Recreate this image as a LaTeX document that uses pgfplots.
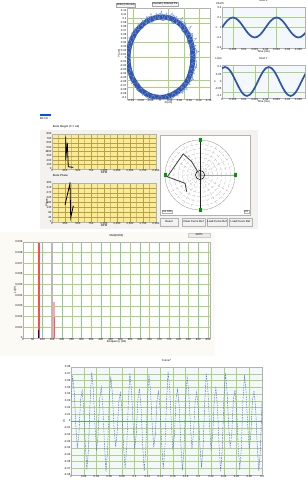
\documentclass[border=0pt]{standalone}
\usepackage{fontspec}
\setmainfont{Liberation Sans}
\usepackage{pgfplots}
\pgfplotsset{compat=1.18}
\usepgfplotslibrary{polar}
\newcommand\tf{\fontsize{2.8}{3.2}\selectfont}
\definecolor{gridg}{RGB}{170,212,120}
\definecolor{oblue}{RGB}{45,85,175}
\definecolor{ylw}{RGB}{250,236,150}
\definecolor{ygrid}{RGB}{185,160,70}
\definecolor{cream}{RGB}{251,250,244}
\definecolor{panelg}{RGB}{243,242,238}
\definecolor{lblue}{RGB}{244,248,253}
\definecolor{wblue}{RGB}{90,120,210}
\pgfplotsset{base/.style={scale only axis, anchor=south west,
  axis line style={gray!60, line width=0.3pt}, tick style={draw=none},
  tick label style={font=\tf, inner sep=0.4pt}, label style={font=\tf, inner sep=0.4pt},
  title style={font=\tf, inner sep=0.6pt}, /pgf/number format/assume math mode=true,
  scaled x ticks=false, scaled y ticks=false,
  major grid style={gridg, line width=0.35pt}, minor grid style={gridg!60, line width=0.3pt}}}
\begin{document}
\begin{tikzpicture}[x=1pt,y=1pt]
\useasboundingbox[fill=white] (0,0) rectangle (306,482);
% ---------------- panel 1: orbit ----------------
\node[draw=gray!70, fill=gray!8, font=\tf, inner sep=0.6pt, anchor=west] at (116,477) {Orbit (Filtered)};
\node[draw=gray!70, fill=gray!8, font=\tf, inner sep=0.6pt] at (165,478) {Overall \textbar{} Filtered Pk};
\begin{axis}[base, at={(127pt,383pt)}, width=83pt, height=91pt,
  xmin=-1.02, xmax=1.54, ymin=-1.04, ymax=1.27,
  xtick={-0.9,-0.6,-0.3,0,0.3,0.6,0.9,1.2,1.5},
  xticklabels={-0.09,-0.06,-0.03,0,0.03,0.06,0.09,0.12,0.15},
  ytick={-1,-0.9,-0.8,-0.7,-0.6,-0.5,-0.4,-0.3,-0.2,-0.1,0,0.1,0.2,0.3,0.4,0.5,0.6,0.7,0.8,0.9,1,1.1,1.2},
  yticklabels={-0.1,-0.09,-0.08,-0.07,-0.06,-0.05,-0.04,-0.03,-0.02,-0.01,0,0.01,0.02,0.03,0.04,0.05,0.06,0.07,0.08,0.09,0.1,0.11,0.12},
  extra x ticks={-0.83,0.25,0.74,1.2}, extra x tick labels={},
  extra y ticks={1.01,0.89,0.41,0.03,-0.56,-0.73}, extra y tick labels={},
  extra tick style={grid=major},
  xlabel={X(um)}, ylabel={Y(um)}, xlabel style={yshift=1.5pt}, ylabel style={yshift=-1.5pt}]
\addplot[oblue, line width=5pt, smooth, data cs=polar] coordinates {
(0,1.01)(10,1.02)(20,1.03)(30,1.04)(40,1.05)(50,1.06)(60,1.06)(70,1.06)(80,1.05)(90,1.04)(100,1.03)(110,1.02)(120,1.01)
(130,1.0)(140,1.0)(150,0.99)(160,0.99)(170,0.99)(180,0.99)(190,0.99)(200,0.99)(210,0.99)(220,0.99)(230,1.0)(240,1.0)
(250,1.0)(260,1.0)(270,1.0)(280,1.0)(290,1.0)(300,1.0)(310,1.01)(320,1.02)(330,1.02)(340,1.01)(350,1.01)(360,1.01)};
\addplot[oblue!85, line width=0.4pt, data cs=polar] coordinates {
(0,1.1)(10,1.14)(20,1.06)(30,1.16)(40,1.1)(50,1.18)(60,1.11)(70,1.17)(80,1.09)(90,1.13)(100,1.08)(110,1.11)(120,1.05)
(130,1.07)(140,1.03)(150,1.06)(160,1.04)(170,1.07)(180,1.05)(190,1.08)(200,1.04)(210,1.07)(220,1.05)(230,1.08)(240,1.06)
(250,1.09)(260,1.05)(270,1.07)(280,1.06)(290,1.09)(300,1.07)(310,1.11)(320,1.08)(330,1.13)(340,1.09)(350,1.14)(360,1.1)};
\addplot[oblue!85, line width=0.4pt, data cs=polar] coordinates {
(5,0.92)(15,1.0)(25,0.94)(35,1.03)(45,0.96)(55,1.06)(65,0.97)(75,1.04)(85,0.95)(95,1.02)(105,0.94)(115,1.0)(125,0.93)
(135,0.99)(145,0.92)(155,0.98)(165,0.93)(175,0.97)(185,0.92)(195,0.98)(205,0.93)(215,0.97)(225,0.92)(235,0.98)(245,0.93)
(255,0.99)(265,0.94)(275,0.98)(285,0.93)(295,0.99)(305,0.94)(315,1.01)(325,0.95)(335,1.03)(345,0.94)(355,1.02)(365,0.92)};
\addplot[wblue!75, line width=0.35pt, data cs=polar] coordinates {
(0,1.17)(4,0.97)(8,1.22)(12,0.98)(16,1.16)(20,0.96)(24,1.24)(28,0.99)(32,1.19)(36,0.97)(40,1.26)(44,1.0)(48,1.2)(52,0.98)
(56,1.25)(60,1.0)(64,1.18)(68,0.97)(72,1.22)(76,0.99)(80,1.16)(84,0.97)(88,1.2)(92,0.98)(96,1.15)(100,0.96)(104,1.17)
(108,0.97)(112,1.14)(116,0.96)(120,1.12)(124,0.97)(128,1.11)(132,0.96)(136,1.1)(140,0.97)(144,1.09)(148,0.95)(152,1.1)
(156,0.95)(160,1.08)(164,0.94)(168,1.09)(172,0.95)(176,1.08)(180,0.94)};
\addplot[wblue!75, line width=0.35pt, data cs=polar] coordinates {
(180,1.08)(186,0.93)(192,1.1)(198,0.94)(204,1.08)(210,0.93)(216,1.11)(222,0.94)(228,1.09)(234,0.95)(240,1.1)(246,0.94)
(252,1.12)(258,0.95)(264,1.09)(270,0.94)(276,1.11)(282,0.95)(288,1.1)(294,0.96)(300,1.12)(304,0.98)(308,1.15)(312,0.97)
(316,1.17)(320,0.98)(324,1.15)(328,0.99)(332,1.18)(336,0.98)(340,1.14)(344,0.97)(348,1.16)(352,0.98)(356,1.14)(360,1.0)};
\end{axis}
% sine 1
\node[font=\tf, anchor=west] at (213,479) {Pk-Pk};
\begin{axis}[base, at={(222pt,434pt)}, width=83pt, height=41pt, axis background/.style={fill=lblue},
  xmin=0, xmax=1.9, ymin=-2.05, ymax=2.05, title={Rod X}, title style={yshift=-1pt},
  xtick={0,0.25,0.5,0.75,1,1.25,1.5,1.75}, xticklabels={0,0.005,0.01,0.015,0.02,0.025,0.03,0.035},
  ytick={-2,-1,0,1,2}, yticklabels={-0.2,-0.1,0,0.1,0.2},
  extra x ticks={0.25,1.25}, extra x tick labels={}, extra y ticks={0,1}, extra y tick labels={},
  extra tick style={grid=major}, xlabel={Time (ms)}, ylabel={Y}, xlabel style={yshift=0.8pt}, ylabel style={yshift=-2pt}]
\addplot[oblue, line width=1.7pt, smooth] coordinates {
(0,0)(0.0625,0.383)(0.125,0.707)(0.1875,0.924)(0.25,1)(0.3125,0.924)(0.375,0.707)(0.4375,0.383)
(0.5,0)(0.5625,-0.383)(0.625,-0.707)(0.6875,-0.924)(0.75,-1)(0.8125,-0.924)(0.875,-0.707)(0.9375,-0.383)
(1,0)(1.0625,0.383)(1.125,0.707)(1.1875,0.924)(1.25,1)(1.3125,0.924)(1.375,0.707)(1.4375,0.383)
(1.5,0)(1.5625,-0.383)(1.625,-0.707)(1.6875,-0.924)(1.75,-1)(1.8125,-0.924)(1.875,-0.707)(1.9375,-0.383)};
\end{axis}
% sine 2
\node[font=\tf, anchor=west] at (212,424) {Lmin};
\begin{axis}[base, at={(222pt,384pt)}, width=83pt, height=33pt, axis background/.style={fill=lblue},
  xmin=0, xmax=1.9, ymin=-1.14, ymax=1.14, title={Rod Y}, title style={yshift=-1pt},
  xtick={0,0.25,0.5,0.75,1,1.25,1.5,1.75}, xticklabels={0,0.005,0.01,0.015,0.02,0.025,0.03,0.035},
  ytick={-1,-0.5,0,0.5,1}, yticklabels={-0.1,-0.05,0,0.05,0.1},
  extra x ticks={0.25,0.76,1.06}, extra x tick labels={}, extra y ticks={0.66,-0.72}, extra y tick labels={},
  extra tick style={grid=major}, xlabel={Time (ms)}, ylabel={Y}, xlabel style={yshift=0.8pt}, ylabel style={yshift=-2pt}]
\addplot[oblue, line width=1.7pt, smooth] coordinates {
(0,0.906)(0.07,1)(0.1325,0.924)(0.195,0.707)(0.2575,0.383)(0.32,0)(0.3825,-0.383)(0.445,-0.707)(0.5075,-0.924)
(0.57,-1)(0.6325,-0.924)(0.695,-0.707)(0.7575,-0.383)(0.82,0)(0.8825,0.383)(0.945,0.707)(1.0075,0.924)(1.07,1)
(1.1325,0.924)(1.195,0.707)(1.2575,0.383)(1.32,0)(1.3825,-0.383)(1.445,-0.707)(1.5075,-0.924)(1.57,-1)
(1.6325,-0.924)(1.695,-0.707)(1.7575,-0.383)(1.82,0)(1.8825,0.383)(1.945,0.707)};
\end{axis}
% ---------------- panel 2 ----------------
\fill[blue!70!cyan] (40,366) rectangle (51,368);
\node[font=\tf, anchor=west, inner sep=0pt] at (40,363) {BF Do};
\fill[panelg] (40,253) rectangle (258,352);
\begin{axis}[base, at={(52pt,313pt)}, width=104pt, height=35pt, axis background/.style={fill=ylw},
  major grid style={ygrid, line width=0.35pt}, minor grid style={ygrid!70, line width=0.3pt}, grid=both,
  xmin=0, xmax=2000, ymin=0, ymax=800, xtick={0,250,...,2000}, minor x tick num=1, ytick={0,100,...,800},
  title={Bode Mag/A (X,Y ab)}, title style={at={(0,1)}, anchor=south west, yshift=-0.5pt},
  xlabel={RPM}, ylabel={A}, xlabel style={yshift=1pt}, ylabel style={yshift=-2pt}]
\addplot[black, line width=0.8pt] coordinates {(263,740)(263,200)(294,600)(313,51)(410,38)};
\end{axis}
\begin{axis}[base, at={(52pt,260pt)}, width=104pt, height=39pt, axis background/.style={fill=ylw},
  major grid style={ygrid, line width=0.35pt}, minor grid style={ygrid!70, line width=0.3pt}, grid=both,
  xmin=0, xmax=2000, ymin=0, ymax=360, xtick={0,250,...,2000}, minor x tick num=1, ytick={0,45,...,360},
  title={Bode Phase}, title style={at={(0,1)}, anchor=south west, yshift=-0.5pt},
  xlabel={RPM}, ylabel={Phase}, xlabel style={yshift=1pt}, ylabel style={yshift=-2pt}]
\addplot[black, line width=0.8pt] coordinates {(250,157)(346,357)(360,40)(410,150)};
\end{axis}
\filldraw[fill=white, draw=gray!60, line width=0.3pt] (160,267) rectangle (250,347);
\begin{polaraxis}[scale only axis, at={(200pt,307pt)}, anchor=center, width=70pt, height=70pt,
  ymin=0, ymax=1, xtick={0,30,...,330}, minor x tick num=1,
  ytick={0.125,0.25,0.375,0.5,0.625,0.75,0.875,1}, xticklabels={}, yticklabels={},
  grid=both, major grid style={gray!60, densely dashed, line width=0.25pt},
  minor grid style={gray!45, densely dashed, line width=0.2pt},
  axis line style={gray!70, line width=0.3pt}, tick style={draw=none}, clip=false]
\addplot[black!85, line width=0.8pt] coordinates {(90,1)(270,1)};
\addplot[black, line width=0.5pt, smooth] coordinates {(0,0.13)(45,0.13)(90,0.13)(135,0.13)(180,0.13)(225,0.13)(270,0.13)(315,0.13)(360,0.13)};
\addplot[black!75, line width=0.8pt] coordinates {(231.5,0.61)(209,0.49)(183,0.935)(128.5,0.77)(122,0.45)(126,0.08)};
\addplot[only marks, mark=square*, mark size=1.3pt, green!60!black] coordinates {(90,1)(270,1)(0,1)(180,1)};
\end{polaraxis}
\node[draw=gray!60, fill=white, font=\tf, inner sep=0.5pt, anchor=south west] at (162,269) {Ca 180};
\node[draw=gray!60, fill=white, font=\tf, inner sep=0.5pt, anchor=south east] at (249,269) {0.0};
\foreach \a/\b/\t in {160/178/Reset, 182/205/Clear Curve Ref, 207/227/Load Curve Ref, 229/252/Load Curve Ref}{
  \filldraw[fill=gray!10, draw=gray!60, line width=0.3pt] (\a,256) rectangle (\b,264);
  \node[font=\tf, inner sep=0pt] at ({(\a+\b)/2},260) {\t};}
% ---------------- panel 3: spectrum ----------------
\fill[cream] (0,126) rectangle (215,250);
\filldraw[fill=gray!15, draw=gray!40, line width=0.2pt] (188,245) rectangle (210,249);
\node[font=\tf, inner sep=0pt] at (199,247) {100\%};
\begin{axis}[base, at={(23pt,144pt)}, width=187pt, height=96pt, axis background/.style={fill=white},
  xmin=0, xmax=960, ymin=0, ymax=0.009, xtick={0,50,...,950}, grid=major,
  ytick={0,0.001,0.002,0.003,0.004,0.005,0.006,0.007,0.008,0.009},
  yticklabels={0,0.001,0.002,0.003,0.004,0.005,0.006,0.007,0.008,0.009},
  extra x ticks={100,200,300,400,500,600,700,800,900}, extra x tick labels={},
  extra tick style={major grid style={green!55!black!45, line width=0.45pt}},
  title={Multi(Orbit)}, title style={yshift=-1.5pt},
  xlabel={Frequency (Hz)}, ylabel={Lo(V)}, xlabel style={yshift=0.8pt}, ylabel style={yshift=-2pt}]
\addplot[gray!55, line width=2pt] coordinates {(151,0)(151,0.009)};
\addplot[red!35, line width=2pt] coordinates {(83,0)(83,0.0011)};
\addplot[red!70, line width=1.3pt] coordinates {(82,0)(82,0.0089)};
\addplot[blue!60!black, line width=1.2pt] coordinates {(81,0)(81,0.00075)};
\addplot[red!35, line width=1.6pt] coordinates {(160,0)(160,0.0034)};
\addplot[red!65, line width=0.9pt] coordinates {(159,0)(159,0.002)};
\end{axis}
% ---------------- panel 4: waveform ----------------
\begin{axis}[base, at={(71pt,7pt)}, width=191pt, height=108pt, axis background/.style={fill=lblue},
  xmin=0, xmax=120, ymin=-0.08, ymax=0.08, grid=major,
  xtick={0,8,...,120}, xticklabels={0,0.02,0.04,0.06,0.08,0.1,0.12,0.14,0.16,0.18,0.2,0.22,0.24,0.26,0.28,0.3},
  ytick={-0.08,-0.07,-0.06,-0.05,-0.04,-0.03,-0.02,-0.01,0,0.01,0.02,0.03,0.04,0.05,0.06,0.07,0.08},
  yticklabels={-0.08,-0.07,-0.06,-0.05,-0.04,-0.03,-0.02,-0.01,0,0.01,0.02,0.03,0.04,0.05,0.06,0.07,0.08},
  extra y ticks={0}, extra y tick labels={}, extra tick style={major grid style={green!60!black!70, line width=0.5pt}, grid=major},
  title={Curve7}, title style={yshift=-1.5pt}, ylabel={di}, ylabel style={yshift=-2pt}]
\addplot[wblue, line width=0.45pt, dash pattern=on 1.6pt off 0.9pt] coordinates {
(0,0.028)
(1,0.068)(2,0.044)(3,-0.006)(4,-0.040)(5,-0.018)(6,0.031)(7,0.045)(8,0.019)(9,-0.036)(10,-0.072)(11,-0.041)(12,0.029)
(13,0.072)(14,0.047)(15,-0.003)(16,-0.044)(17,-0.021)(18,0.033)(19,0.050)(20,0.022)(21,-0.034)(22,-0.075)(23,-0.043)(24,0.031)
(25,0.066)(26,0.041)(27,-0.008)(28,-0.038)(29,-0.017)(30,0.028)(31,0.042)(32,0.017)(33,-0.037)(34,-0.070)(35,-0.039)(36,0.027)
(37,0.071)(38,0.046)(39,-0.004)(40,-0.042)(41,-0.020)(42,0.032)(43,0.048)(44,0.021)(45,-0.035)(46,-0.074)(47,-0.042)(48,0.030)
(49,0.069)(50,0.043)(51,-0.006)(52,-0.039)(53,-0.019)(54,0.030)(55,0.044)(56,0.018)(57,-0.036)(58,-0.071)(59,-0.040)(60,0.028)
(61,0.073)(62,0.048)(63,-0.002)(64,-0.043)(65,-0.022)(66,0.034)(67,0.047)(68,0.021)(69,-0.033)(70,-0.073)(71,-0.042)(72,0.031)
(73,0.067)(74,0.042)(75,-0.007)(76,-0.041)(77,-0.018)(78,0.029)(79,0.043)(80,0.018)(81,-0.037)(82,-0.069)(83,-0.038)(84,0.027)
(85,0.070)(86,0.046)(87,-0.004)(88,-0.044)(89,-0.021)(90,0.032)(91,0.049)(92,0.022)(93,-0.034)(94,-0.075)(95,-0.043)(96,0.030)
(97,0.071)(98,0.045)(99,-0.005)(100,-0.040)(101,-0.019)(102,0.031)(103,0.046)(104,0.020)(105,-0.035)(106,-0.072)(107,-0.041)(108,0.029)
(109,0.068)(110,0.043)(111,-0.006)(112,-0.042)(113,-0.020)(114,0.030)(115,0.045)(116,0.019)(117,-0.036)(118,-0.074)(119,-0.042)(120,0.028)};
\end{axis}
\end{tikzpicture}
\end{document}
